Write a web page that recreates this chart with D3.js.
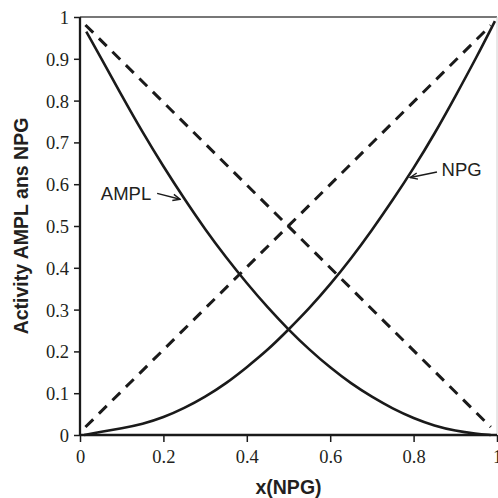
<!DOCTYPE html>
<html lang="en">
<head>
<meta charset="UTF-8">
<title>Activity AMPL and NPG</title>
<script src="https://d3js.org/d3.v7.min.js"></script>
<style>
    body{
        margin: 0;
        background: #fff;
    }
    .tick_text{
        font-family: "Liberation Serif", "Times New Roman", serif;
        font-size: 18.5px;
        fill: #231f20;
    }
    .axis_title{
        font-family: "Liberation Sans", Arial, sans-serif;
        font-size: 19.5px;
        font-weight: bold;
        fill: #231f20;
    }
    .label_text{
        font-family: "Liberation Sans", Arial, sans-serif;
        font-size: 18.5px;
        fill: #231f20;
    }
</style>
</head>
<body>
<svg width="498" height="498"></svg>
<script>
    // tick values on both axes
    const xTicks = [0, 0.2, 0.4, 0.6, 0.8, 1];
    const xTickLabels = ["0", "0.2", "0.4", "0.6", "0.8", "1"];
    const yTicks = [0, 0.1, 0.2, 0.3, 0.4, 0.5, 0.6, 0.7, 0.8, 0.9, 1];
    const yTickLabels = ["0", "0.1", "0.2", "0.3", "0.4", "0.5", "0.6", "0.7", "0.8", "0.9", "1"];

    // solid curves
    const npgX     = [0.01, 0.05, 0.1, 0.15, 0.2, 0.25, 0.3, 0.35, 0.4, 0.45, 0.5, 0.55, 0.6, 0.65, 0.7, 0.75, 0.8, 0.85, 0.9, 0.95, 0.995];
    const npgAct   = [0.0, 0.008, 0.016, 0.026, 0.042, 0.064, 0.091, 0.123, 0.162, 0.203, 0.252, 0.303, 0.36, 0.422, 0.49, 0.562, 0.638, 0.72, 0.81, 0.902, 0.99];
    const amplX    = [0.015, 0.05, 0.1, 0.15, 0.2, 0.25, 0.3, 0.35, 0.4, 0.45, 0.5, 0.55, 0.6, 0.65, 0.7, 0.75, 0.8, 0.85, 0.9, 0.95, 0.985];
    const amplAct  = [0.965, 0.903, 0.812, 0.724, 0.642, 0.565, 0.492, 0.425, 0.363, 0.305, 0.252, 0.204, 0.161, 0.123, 0.091, 0.063, 0.04, 0.022, 0.01, 0.003, 0.0];

    // dashed ideal lines
    const idealNpg  = [[0.013, 0.019], [0.985, 0.98]];
    const idealAmpl = [[0.013, 0.981], [0.985, 0.019]];

    // labels with arrows
    const amplLabel = {text: "AMPL", at: [0.05, 0.562], from: [0.185, 0.578], to: [0.24, 0.564]};
    const npgLabel  = {text: "NPG",  at: [0.867, 0.619], from: [0.856, 0.629], to: [0.792, 0.616]};

    const svg = d3.select("svg");
    const x = d3.scaleLinear().domain([0, 1]).range([80, 497]);
    const y = d3.scaleLinear().domain([0, 1]).range([435, 17]);

    // frame: top and right edges
    svg.append("line")
        .attr("x1", x(0)).attr("x2", x(1))
        .attr("y1", y(1)).attr("y2", y(1))
        .attr("stroke", "#4a4a4a").attr("stroke-width", 1.5);
    svg.append("line")
        .attr("x1", x(1)).attr("x2", x(1))
        .attr("y1", y(1)).attr("y2", y(0))
        .attr("stroke", "#d0d0d0").attr("stroke-width", 1);

    // axes
    const xAxis = d3.axisBottom(x).tickValues(xTicks).tickSize(7)
        .tickFormat((d, i) => xTickLabels[i]);
    const yAxis = d3.axisLeft(y).tickValues(yTicks).tickSize(6)
        .tickFormat((d, i) => yTickLabels[i]);

    const gx = svg.append("g").attr("transform", `translate(0,${y(0)})`).call(xAxis);
    const gy = svg.append("g").attr("transform", `translate(${x(0)},0)`).call(yAxis);

    [gx, gy].forEach(g => {
        g.select(".domain").attr("stroke", "#1a1a1a").attr("stroke-width", 2.3);
        g.selectAll(".tick line").attr("stroke", "#1a1a1a").attr("stroke-width", 1.5);
        g.selectAll(".tick text").attr("class", "tick_text").attr("font-family", null).attr("font-size", null);
    });
    gx.select(".domain").attr("d", `M${x(0)},0H${x(1)}`);
    gy.select(".domain").attr("d", `M0,${y(0)}V${y(1)}`);
    gx.selectAll(".tick text").attr("y", 15);
    gy.selectAll(".tick text").attr("x", -11).attr("dy", "0.35em");

    // axis titles
    svg.append("text").attr("class", "axis_title")
        .attr("x", (x(0) + x(1)) / 2).attr("y", 494)
        .attr("text-anchor", "middle").text("x(NPG)");
    svg.append("text").attr("class", "axis_title")
        .attr("transform", "translate(28,226) rotate(-90)")
        .attr("text-anchor", "middle").text("Activity AMPL ans NPG");

    // dashed lines
    const line = d3.line().x(d => x(d[0])).y(d => y(d[1]));
    [idealNpg, idealAmpl].forEach(pts => {
        svg.append("path").attr("d", line(pts))
            .attr("fill", "none").attr("stroke", "#1a1a1a")
            .attr("stroke-width", 3).attr("stroke-dasharray", "11,8");
    });

    // solid curves
    const smooth = d3.line().x(d => x(d[0])).y(d => y(d[1])).curve(d3.curveBasis);
    const npgPts = npgX.map((v, i) => [v, npgAct[i]]);
    const amplPts = amplX.map((v, i) => [v, amplAct[i]]);
    [npgPts, amplPts].forEach(pts => {
        svg.append("path").attr("d", smooth(pts))
            .attr("fill", "none").attr("stroke", "#1a1a1a")
            .attr("stroke-width", 2.6).attr("stroke-linejoin", "round");
    });

    // arrow marker
    svg.append("defs").append("marker")
        .attr("id", "arrow").attr("viewBox", "0 0 10 10")
        .attr("refX", 9).attr("refY", 5)
        .attr("markerWidth", 9).attr("markerHeight", 9)
        .attr("markerUnits", "userSpaceOnUse")
        .attr("orient", "auto")
        .append("path").attr("d", "M1,1.5 L9,5 L1,8.5")
        .attr("fill", "none").attr("stroke", "#1a1a1a").attr("stroke-width", 1.6);

    [amplLabel, npgLabel].forEach(l => {
        svg.append("text").attr("class", "label_text")
            .attr("x", x(l.at[0])).attr("y", y(l.at[1]))
            .text(l.text);
        svg.append("line")
            .attr("x1", x(l.from[0])).attr("y1", y(l.from[1]))
            .attr("x2", x(l.to[0])).attr("y2", y(l.to[1]))
            .attr("stroke", "#1a1a1a").attr("stroke-width", 1.5)
            .attr("marker-end", "url(#arrow)");
    });
</script>
</body>
</html>
